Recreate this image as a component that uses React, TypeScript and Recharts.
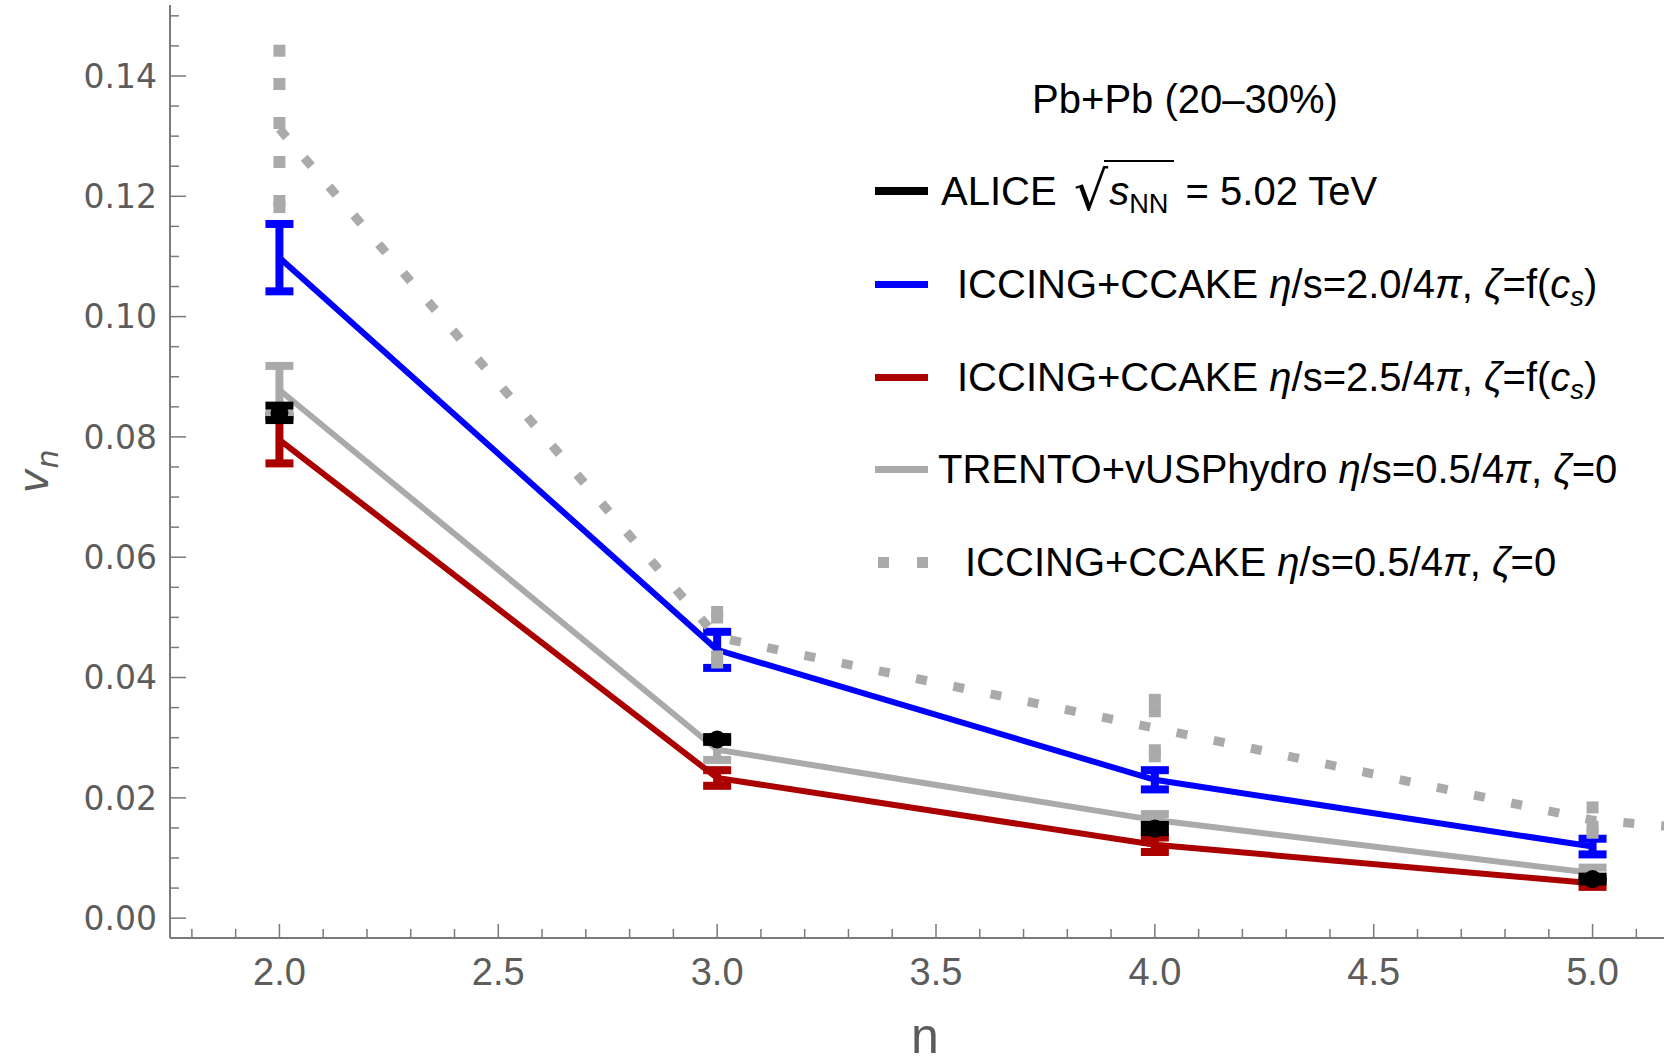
import React from "react";
import { LineChart, Line, XAxis, YAxis, ErrorBar } from "recharts";

// harmonic order n
const harmonics = [2, 3, 4, 5];

// ALICE sqrt(sNN) = 5.02 TeV, Pb+Pb 20-30%
const aliceV = [0.084, 0.0297, 0.0149, 0.0065];
const aliceErr = [0.0012, 0.0004, 0.0006, 0.0004];

// ICCING+CCAKE eta/s = 2.0/4pi, zeta = f(cs)
const iccing20V = [0.1098, 0.0446, 0.023, 0.0119];
const iccing20Err = [0.0056, 0.003, 0.0016, 0.0013];

// ICCING+CCAKE eta/s = 2.5/4pi, zeta = f(cs)
const iccing25V = [0.0795, 0.0233, 0.0122, 0.0058];
const iccing25Err = [0.0039, 0.0013, 0.0012, 0.0006];

// TRENTO+vUSPhydro eta/s = 0.5/4pi, zeta = 0
const trentoV = [0.0878, 0.028, 0.0163, 0.0075];
const trentoErr = [0.004, 0.0017, 0.001, 0.0009];

// ICCING+CCAKE eta/s = 0.5/4pi, zeta = 0 (runs past the right edge)
const iccing05N = [2, 3, 4, 5, 6];
const iccing05V = [0.1312, 0.0467, 0.0316, 0.0163, 0.0104];
const iccing05Err = [0.013, 0.0042, 0.0047, 0.0021, 0];

const xTicks = [
  1.8, 1.9, 2.0, 2.1, 2.2, 2.3, 2.4, 2.5, 2.6, 2.7, 2.8, 2.9, 3.0, 3.1, 3.2, 3.3, 3.4, 3.5,
  3.6, 3.7, 3.8, 3.9, 4.0, 4.1, 4.2, 4.3, 4.4, 4.5, 4.6, 4.7, 4.8, 4.9, 5.0, 5.1, 5.2,
];
const yTicks = [
  0, 0.005, 0.01, 0.015, 0.02, 0.025, 0.03, 0.035, 0.04, 0.045, 0.05, 0.055, 0.06, 0.065,
  0.07, 0.075, 0.08, 0.085, 0.09, 0.095, 0.1, 0.105, 0.11, 0.115, 0.12, 0.125, 0.13, 0.135,
  0.14, 0.145, 0.15,
];

const toRows = (ns: number[], vs: number[], es: number[]) =>
  ns.map((n, i) => ({ n, v: vs[i], e: es[i] }));

const alice = toRows(harmonics, aliceV, aliceErr);
const iccing20 = toRows(harmonics, iccing20V, iccing20Err);
const iccing25 = toRows(harmonics, iccing25V, iccing25Err);
const trento = toRows(harmonics, trentoV, trentoErr);
const iccing05 = toRows(iccing05N, iccing05V, iccing05Err);

const AXIS = "#7a7a7a";
const LABEL = "#5c5c5c";
const BLUE = "#0000ff";
const RED = "#aa0000";
const GRAY = "#aaaaaa";
const SANS = "'Liberation Sans', Arial, sans-serif";

const isMultiple = (v: number, step: number) => Math.abs(v / step - Math.round(v / step)) < 1e-6;

const BottomTick = (props: any) => {
  const { x, y, payload } = props;
  const major = isMultiple(payload.value, 0.5);
  return (
    <g>
      <line x1={x} x2={x} y1={y} y2={y - (major ? 14 : 9)} stroke={AXIS} strokeWidth={1.5} />
      {major && (
        <text x={x} y={y + 47} textAnchor="middle" fill={LABEL} fontFamily={SANS} fontSize={38}>
          {payload.value.toFixed(1)}
        </text>
      )}
    </g>
  );
};

const TopTick = (props: any) => {
  const { x, y, payload } = props;
  const major = isMultiple(payload.value, 0.5);
  return <line x1={x} x2={x} y1={y} y2={y + (major ? 13 : 7)} stroke={AXIS} strokeWidth={1.5} />;
};

const LeftTick = (props: any) => {
  const { x, y, payload } = props;
  const major = isMultiple(payload.value, 0.02);
  return (
    <g>
      <line x1={x} x2={x + (major ? 16 : 9)} y1={y} y2={y} stroke={AXIS} strokeWidth={1.5} />
      {major && (
        <text x={x - 13} y={y} dy="0.36em" textAnchor="end" fill={LABEL} fontFamily="'DejaVu Sans', Verdana, sans-serif" fontSize={33}>
          {payload.value.toFixed(2)}
        </text>
      )}
    </g>
  );
};

const YTitle = (props: any) => {
  const vb = props.viewBox || { x: 0, y: 5, width: 170, height: 933 };
  const cx = vb.x + 48;
  const cy = vb.y + vb.height / 2;
  return (
    <text transform={`translate(${cx}, ${cy}) rotate(-90)`} textAnchor="middle" fill={LABEL} fontFamily="'DejaVu Sans', sans-serif" fontStyle="italic" fontSize={42}>
      <tspan>v</tspan>
      <tspan fontSize={30} dy={10}>n</tspan>
    </text>
  );
};

const XTitle = (props: any) => {
  const vb = props.viewBox || { x: 170, y: 938, width: 1532, height: 125 };
  return (
    <text x={925} y={vb.y + 115} textAnchor="middle" fill={LABEL} fontFamily={SANS} fontSize={50}>
      n
    </text>
  );
};

const sub: React.CSSProperties = { fontSize: "0.68em", position: "relative", top: "0.3em" };

const legendRows = [
  { y: 191, left: 941, sample: "#000000", thick: 8, dotted: false },
  { y: 284, left: 957, sample: BLUE, thick: 7, dotted: false },
  { y: 377, left: 957, sample: RED, thick: 7, dotted: false },
  { y: 469, left: 938, sample: GRAY, thick: 7, dotted: false },
  { y: 562, left: 965, sample: GRAY, thick: 11, dotted: true },
];

const legendText = [
  <>
    ALICE{" "}
    <span style={{ fontFamily: "'DejaVu Sans', sans-serif", fontSize: 54, lineHeight: 0, position: "relative", top: 5, marginLeft: 6, marginRight: -4 }}>√</span>
    <span style={{ position: "relative", display: "inline-block", paddingLeft: 5, paddingRight: 6 }}>
      <span style={{ position: "absolute", left: 0, right: 0, top: -11, borderTop: "2px solid #000" }} />
      <i>s</i>
      <span style={sub}>NN</span>
    </span>{" "}
    = 5.02 TeV
  </>,
  <>
    ICCING+CCAKE <i>η</i>/s=2.0/4<i>π</i>, <i>ζ</i>=f(<i>c</i>
    <i style={sub}>s</i>)
  </>,
  <>
    ICCING+CCAKE <i>η</i>/s=2.5/4<i>π</i>, <i>ζ</i>=f(<i>c</i>
    <i style={sub}>s</i>)
  </>,
  <>
    TRENTO+vUSPhydro <i>η</i>/s=0.5/4<i>π</i>, <i>ζ</i>=0
  </>,
  <>
    ICCING+CCAKE <i>η</i>/s=0.5/4<i>π</i>, <i>ζ</i>=0
  </>,
];

function LegendBox() {
  return (
    <div style={{ position: "absolute", left: 0, top: 0, fontFamily: SANS, fontSize: 40, color: "#000", whiteSpace: "nowrap" }}>
      <div style={{ position: "absolute", left: 1185, top: 79, lineHeight: "40px", transform: "translateX(-50%)" }}>
        Pb+Pb (20–30%)
      </div>
      {legendRows.map((r, i) => (
        <React.Fragment key={i}>
          {r.dotted ? (
            <>
              <div style={{ position: "absolute", left: 878, top: r.y - 5, width: 11, height: r.thick, background: r.sample }} />
              <div style={{ position: "absolute", left: 917, top: r.y - 5, width: 11, height: r.thick, background: r.sample }} />
            </>
          ) : (
            <div style={{ position: "absolute", left: 875, top: r.y - r.thick / 2, width: 53, height: r.thick, background: r.sample }} />
          )}
          <div style={{ position: "absolute", left: r.left, top: r.y - 20, lineHeight: "40px" }}>{legendText[i]}</div>
        </React.Fragment>
      ))}
    </div>
  );
}

export default function App() {
  return (
    <div style={{ position: "absolute", left: 0, top: 0, width: 1664, height: 1063, overflow: "hidden", background: "#fff" }}>
      <LineChart width={1702} height={1063} margin={{ top: 5, right: 0, bottom: 0, left: 0 }}>
        <XAxis
          dataKey="n"
          type="number"
          domain={[1.75, 5.25]}
          allowDataOverflow
          ticks={xTicks}
          interval={0}
          tickLine={false}
          tickSize={0}
          tickMargin={0}
          tick={<BottomTick />}
          height={125}
          axisLine={{ stroke: AXIS, strokeWidth: 2 }}
          label={<XTitle />}
        />
        <XAxis
          xAxisId="top"
          orientation="top"
          dataKey="n"
          type="number"
          domain={[1.75, 5.25]}
          allowDataOverflow
          ticks={xTicks}
          interval={0}
          tickLine={false}
          tickSize={0}
          tickMargin={0}
          tick={<TopTick />}
          height={0}
          axisLine={{ stroke: AXIS, strokeWidth: 2 }}
        />
        <YAxis
          type="number"
          domain={[-0.0033, 0.1518]}
          allowDataOverflow
          ticks={yTicks}
          interval={0}
          tickLine={false}
          tickSize={0}
          tickMargin={0}
          tick={<LeftTick />}
          width={170}
          axisLine={{ stroke: AXIS, strokeWidth: 2 }}
          label={<YTitle />}
        />
        <Line data={iccing20} dataKey="v" stroke={BLUE} strokeWidth={6} dot={false} activeDot={false} isAnimationActive={false}>
          <ErrorBar dataKey="e" direction="y" width={14} stroke={BLUE} strokeWidth={8} isAnimationActive={false} />
        </Line>
        <Line data={iccing25} dataKey="v" stroke={RED} strokeWidth={6} dot={false} activeDot={false} isAnimationActive={false}>
          <ErrorBar dataKey="e" direction="y" width={14} stroke={RED} strokeWidth={8} isAnimationActive={false} />
        </Line>
        <Line data={trento} dataKey="v" stroke={GRAY} strokeWidth={6} dot={false} activeDot={false} isAnimationActive={false}>
          <ErrorBar dataKey="e" direction="y" width={14} stroke={GRAY} strokeWidth={8} isAnimationActive={false} />
        </Line>
        <Line data={iccing05} dataKey="v" stroke={GRAY} strokeWidth={9} strokeDasharray="11 27" dot={false} activeDot={false} isAnimationActive={false}>
          <ErrorBar dataKey="e" direction="y" width={6} stroke={GRAY} strokeWidth={12} strokeDasharray="12 27" isAnimationActive={false} />
        </Line>
        <Line
          data={alice}
          dataKey="v"
          stroke="none"
          strokeWidth={0}
          dot={{ r: 9, fill: "#000", stroke: "none" }}
          activeDot={false}
          isAnimationActive={false}
        >
          <ErrorBar dataKey="e" direction="y" width={14} stroke="#000" strokeWidth={8} isAnimationActive={false} />
        </Line>
      </LineChart>
      <LegendBox />
    </div>
  );
}
